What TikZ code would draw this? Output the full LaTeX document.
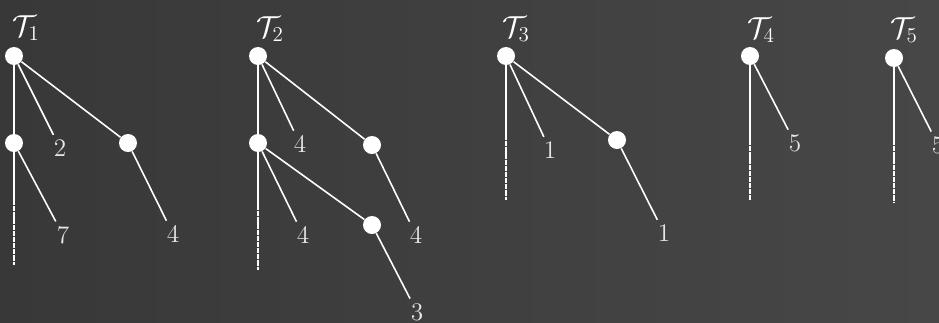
\documentclass[tikz,border=0pt]{standalone}
\usepackage{xcolor}
\usepackage{tikz}
\usepackage{amsmath}
\definecolor{chalkbg}{HTML}{383838}
\definecolor{chalkbgr}{HTML}{474747}
\definecolor{chalk}{HTML}{ffffff}
\definecolor{chalknum}{HTML}{e6e6e6}

\begin{document}
\begin{tikzpicture}[x=0.02cm,y=-0.02cm,
  vtx/.style={circle,fill=chalk,inner sep=0pt,minimum size=0.36cm},
  leaf/.style={inner sep=2.5pt,text=chalknum,font=\Large},
  title/.style={inner sep=0pt,text=chalk,font=\LARGE},
  edge/.style={draw=chalk,line width=0.9pt},
  stub/.style={draw=chalk!85,line width=0.9pt,dash pattern=on 3pt off 0.5pt}]
  \shade[left color=chalkbg,right color=chalkbgr] (0,0) rectangle (939,322);
  \useasboundingbox (0,0) rectangle (939,322);
  % T1
  \node[title] (t1) at (26,28) {$\mathcal{T}_1$};
  \node[vtx] (r1) at (14,56) {};
  \node[vtx] (a1) at (14,143) {};
  \node[vtx] (b1) at (128,143) {};
  \node[leaf] (l12) at (60,148) {2};
  \node[leaf] (l17) at (63,235) {7};
  \node[leaf] (l14) at (173,234) {4};
  \coordinate (m1) at (14,200);
  \coordinate (e1) at (14,265);
  \draw[edge] (r1) -- (a1) -- (m1);
  \draw[stub] (m1) -- (e1);
  \draw[edge] (r1) -- (l12);
  \draw[edge] (r1) -- (b1) -- (l14);
  \draw[edge] (a1) -- (l17);
  % T2
  \node[title] (t2) at (270,29) {$\mathcal{T}_2$};
  \node[vtx] (r2) at (258,56) {};
  \node[vtx] (a2) at (258,143) {};
  \node[vtx] (b2) at (372,145) {};
  \node[vtx] (c2) at (372,225) {};
  \node[leaf] (l24) at (300,144) {4};
  \node[leaf] (l24a) at (303,235) {4};
  \node[leaf] (l24b) at (416,235) {4};
  \node[leaf] (l23) at (417,312) {3};
  \coordinate (m2) at (258,205);
  \coordinate (e2) at (258,270);
  \draw[edge] (r2) -- (a2) -- (m2);
  \draw[stub] (m2) -- (e2);
  \draw[edge] (r2) -- (l24);
  \draw[edge] (r2) -- (b2) -- (l24b);
  \draw[edge] (a2) -- (l24a);
  \draw[edge] (a2) -- (c2) -- (l23);
  % T3
  \node[title] (t3) at (516,29) {$\mathcal{T}_3$};
  \node[vtx] (r3) at (506,56) {};
  \node[vtx] (b3) at (617,140) {};
  \node[leaf] (l31) at (550,150) {1};
  \node[leaf] (l31a) at (664,233) {1};
  \coordinate (m3) at (506,135);
  \coordinate (e3) at (506,200);
  \draw[edge] (r3) -- (m3);
  \draw[stub] (m3) -- (e3);
  \draw[edge] (r3) -- (l31);
  \draw[edge] (r3) -- (b3) -- (l31a);
  % T4
  \node[title] (t4) at (761,30) {$\mathcal{T}_4$};
  \node[vtx] (r4) at (750,56) {};
  \node[leaf] (l45) at (795,143) {5};
  \coordinate (m4) at (750,140);
  \coordinate (e4) at (750,200);
  \draw[edge] (r4) -- (m4);
  \draw[stub] (m4) -- (e4);
  \draw[edge] (r4) -- (l45);
  % T5
  \node[title] (t5) at (904,30) {$\mathcal{T}_5$};
  \node[vtx] (r5) at (894,58) {};
  \node[leaf] (l55) at (938,145) {5};
  \coordinate (m5) at (894,140);
  \coordinate (e5) at (894,203);
  \draw[edge] (r5) -- (m5);
  \draw[stub] (m5) -- (e5);
  \draw[edge] (r5) -- (l55);
\end{tikzpicture}
\end{document}
